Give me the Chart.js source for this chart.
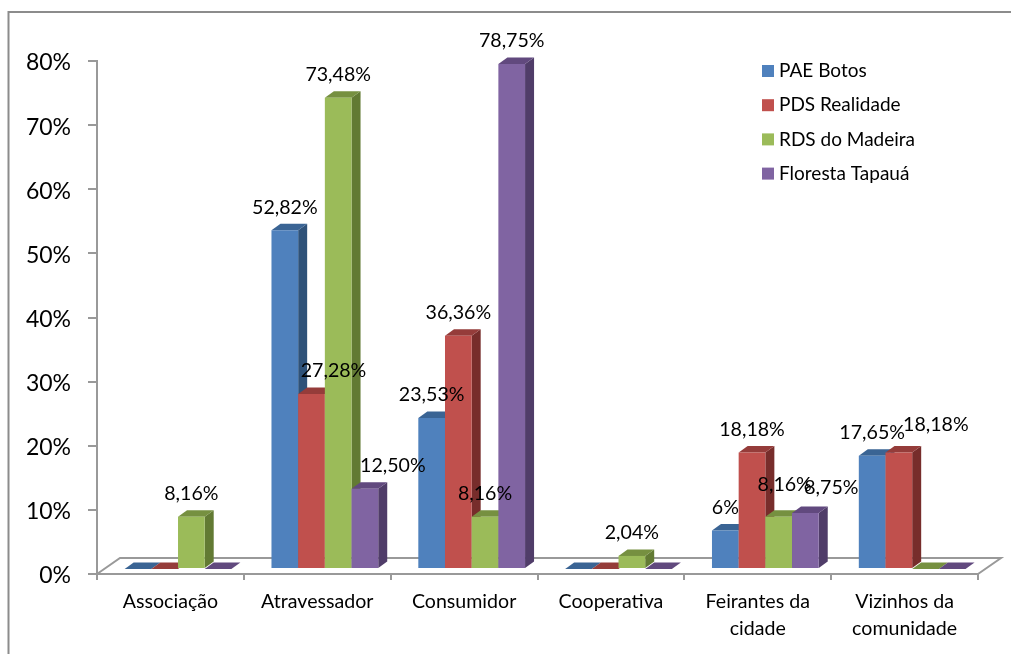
<!DOCTYPE html>
<html>
<head>
<meta charset="utf-8">
<title>Chart</title>
<script src="https://cdn.jsdelivr.net/npm/chart.js@4"></script>
<style>
  html, body { margin: 0; padding: 0; background: #fff; }
  #wrap { width: 1011px; height: 654px; position: relative; }
</style>
</head>
<body>
<div id="wrap"><canvas id="myChart" width="1011" height="654"></canvas></div>
<script>
const categories = ["Associação", "Atravessador", "Consumidor", "Cooperativa", ["Feirantes da", "cidade"], ["Vizinhos da", "comunidade"]];
const seriesNames = ["PAE Botos", "PDS Realidade", "RDS do Madeira", "Floresta Tapauá"];
const paeBotos = [0, 52.82, 23.53, 0, 6, 17.65];
const pdsRealidade = [0, 27.28, 36.36, 0, 18.18, 18.18];
const rdsMadeira = [8.16, 73.48, 8.16, 2.04, 8.16, 0];
const florestaTapaua = [0, 12.5, 78.75, 0, 8.75, 0];
const yTicks = [0, 10, 20, 30, 40, 50, 60, 70, 80];

const frontColors = ["#4F81BD", "#C0504D", "#9BBB59", "#8064A2"];
const topColors = ["#3A6494", "#953C3A", "#769040", "#61497E"];
const sideColors = ["#2F5279", "#772D2B", "#627A33", "#503D69"];

const FONT = "Lato, Carlito, Calibri, sans-serif";
const GREY = "#999999";

// bars stand a little behind the axis plane, depth of the 3d box
const SHIFT_X = 7.6, SHIFT_Y = -5;
const DEPTH_X = 9, DEPTH_Y = -6.5;
const FLOOR_X = 23, FLOOR_Y = -16;

// data labels that were moved by hand in the original: [dataset, category, dx, dy]
const labelMoves = [
  [1, 1, 22, 0],
  [3, 1, 28, 0],
  [2, 4, 6, -9],
  [3, 4, 26, -2],
  [1, 5, 37, -5]
];

function polygon(ctx, pts, color) {
  ctx.fillStyle = color;
  ctx.beginPath();
  pts.forEach((p, i) => (i ? ctx.lineTo(p[0], p[1]) : ctx.moveTo(p[0], p[1])));
  ctx.closePath();
  ctx.fill();
}

const backdrop = {
  id: "backdrop",
  beforeDraw(chart) {
    const ctx = chart.ctx;
    ctx.save();
    ctx.strokeStyle = "#8c8c8c";
    ctx.lineWidth = 2;
    ctx.beginPath();
    ctx.moveTo(8.5, 654);
    ctx.lineTo(8.5, 12);
    ctx.lineTo(1011, 12);
    ctx.stroke();
    ctx.restore();
  },
  beforeDatasetsDraw(chart) {
    const ctx = chart.ctx;
    const a = chart.chartArea;
    ctx.save();
    ctx.strokeStyle = GREY;
    ctx.lineWidth = 2;
    ctx.beginPath();
    ctx.moveTo(a.left, a.bottom);
    ctx.lineTo(a.left + FLOOR_X, a.bottom + FLOOR_Y);
    ctx.lineTo(a.right + FLOOR_X, a.bottom + FLOOR_Y);
    ctx.lineTo(a.right, a.bottom);
    ctx.stroke();

    // left to right, so each box covers the side of the one before it
    ctx.translate(SHIFT_X, SHIFT_Y);
    chart.data.datasets.forEach((ds, i) => {
      chart.getDatasetMeta(i).data.forEach((bar) => {
        const l = bar.x - bar.width / 2;
        const r = bar.x + bar.width / 2;
        polygon(ctx, [[r, bar.y], [r + DEPTH_X, bar.y + DEPTH_Y], [r + DEPTH_X, bar.base + DEPTH_Y], [r, bar.base]], sideColors[i]);
        polygon(ctx, [[l, bar.y], [l + DEPTH_X, bar.y + DEPTH_Y], [r + DEPTH_X, bar.y + DEPTH_Y], [r, bar.y]], topColors[i]);
        bar.draw(ctx);
      });
    });
    ctx.restore();
  },
  beforeDatasetDraw() {
    return false;
  },
  afterDatasetsDraw(chart) {
    const ctx = chart.ctx;
    ctx.save();
    ctx.font = "19.6px " + FONT;
    ctx.fillStyle = "#000";
    ctx.textAlign = "center";
    ctx.textBaseline = "middle";
    chart.data.datasets.forEach((ds, d) => {
      chart.getDatasetMeta(d).data.forEach((bar, c) => {
        const v = ds.data[c];
        if (!v) return;
        const move = labelMoves.find((m) => m[0] === d && m[1] === c);
        const dx = move ? move[2] : 0;
        const dy = move ? move[3] : 0;
        const txt = (Number.isInteger(v) ? String(v) : v.toFixed(2).replace(".", ",")) + "%";
        ctx.fillText(txt, bar.x + SHIFT_X + dx, bar.y + SHIFT_Y - 23 + dy);
      });
    });

    // y labels sit slightly below their tick in the original
    ctx.font = "23px " + FONT;
    ctx.textAlign = "right";
    yTicks.forEach((v) => {
      ctx.fillText(v + "%", 71, chart.scales.y.getPixelForValue(v) + 2);
    });

    // legend
    ctx.font = "19px " + FONT;
    ctx.textAlign = "left";
    chart.data.datasets.forEach((ds, d) => {
      const y = 71 + d * 34.2;
      ctx.fillStyle = frontColors[d];
      ctx.fillRect(762, y - 6, 12, 12);
      ctx.fillStyle = "#000";
      ctx.fillText(ds.label, 779, y);
    });
    ctx.restore();
  }
};

const makeSet = (i, values) => ({
  label: seriesNames[i],
  data: values,
  backgroundColor: frontColors[i],
  barPercentage: 1,
  categoryPercentage: 0.727
});

const myChart = new Chart(document.getElementById("myChart").getContext("2d"), {
  type: "bar",
  data: {
    labels: categories,
    datasets: [makeSet(0, paeBotos), makeSet(1, pdsRealidade), makeSet(2, rdsMadeira), makeSet(3, florestaTapaua)]
  },
  plugins: [backdrop],
  options: {
    responsive: false,
    animation: false,
    layout: { autoPadding: false, padding: { top: 61, right: 33, left: 0, bottom: 0 } },
    plugins: { legend: { display: false }, tooltip: { enabled: false } },
    scales: {
      x: {
        afterFit(scale) { scale.height = 80; },
        border: { color: GREY, width: 2 },
        grid: { drawOnChartArea: false, color: GREY, lineWidth: 2, tickLength: 6, offset: true },
        ticks: { color: "#000", font: { family: FONT, size: 19.6, lineHeight: 1.34 }, padding: 9, maxRotation: 0, autoSkip: false }
      },
      y: {
        min: 0,
        max: 80,
        afterFit(scale) { scale.width = 97; },
        afterBuildTicks(scale) { scale.ticks = yTicks.map((v) => ({ value: v })); },
        border: { color: GREY, width: 2 },
        grid: { drawOnChartArea: false, color: GREY, lineWidth: 2, tickLength: 9 },
        ticks: { display: false }
      }
    }
  }
});
</script>
</body>
</html>
